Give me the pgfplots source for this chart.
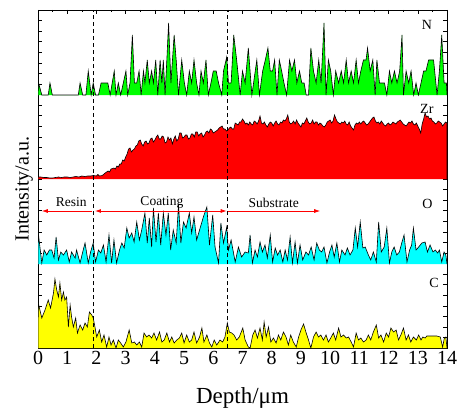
\documentclass[border=0pt]{standalone}
\usepackage{fontspec}
\setmainfont{Liberation Serif}
\usepackage{pgfplots}
\pgfplotsset{compat=1.18}
\usetikzlibrary{arrows.meta}
\definecolor{cG}{RGB}{0,255,0}
\definecolor{cR}{RGB}{255,0,0}
\definecolor{cC}{RGB}{0,255,255}
\definecolor{cY}{RGB}{255,255,0}
\begin{document}
\begin{tikzpicture}
\begin{axis}[
 scale only axis, width=409pt, height=338pt,
 xmin=0, xmax=14, ymin=0, ymax=338,
 xtick={0,1,...,14}, minor x tick num=1,
 ytick distance=10.5625, yticklabel=\empty,
 tick align=inside, major tick length=4pt, minor tick length=2.5pt,
 every tick/.style={black, line width=0.5pt},
 axis line style={line width=0.8pt},
 /pgf/number format/assume math mode=true,
 xticklabel style={font=\fontsize{20}{24}\selectfont},
 xlabel={Depth/μm}, ylabel={Intensity/a.u.},
 xlabel style={font=\fontsize{23}{27}\selectfont, at={(axis description cs:0.5,-0.163)}, anchor=base},
 ylabel style={font=\fontsize{20}{24}\selectfont, at={(axis description cs:-0.034,0.47)}, anchor=center},
]
% N panel (baseline 253)
\addplot[fill=cG, draw=black, line width=0.6pt, y filter/.expression={y+253}] coordinates {
(0,0) (0.02,12) (0.13,0) (0.35,0) (0.41,12) (0.49,0) (1.38,0) (1.44,12) (1.53,0) (1.64,0) (1.72,24) (1.82,0) (1.89,12) (1.97,0) (2.07,0) (2.16,12) (2.39,12) (2.47,0) (2.61,24) (2.67,0) (2.75,12) (2.83,0) (2.92,12) (3.01,24) (3.07,0) (3.15,12) (3.23,60) (3.30,12) (3.38,12) (3.46,24) (3.53,0) (3.61,24) (3.66,12) (3.74,35) (3.81,12) (3.89,24) (3.95,12) (4.03,35) (4.10,0) (4.18,35) (4.24,12) (4.29,35) (4.35,0) (4.41,35) (4.47,72) (4.55,12) (4.66,60) (4.73,35) (4.81,0) (4.92,35) (5.01,12) (5.09,0) (5.18,24) (5.26,12) (5.34,35) (5.43,12) (5.51,0) (5.58,24) (5.66,12) (5.75,35) (5.83,0) (5.92,12) (6.00,24) (6.10,24) (6.18,12) (6.29,0) (6.35,24) (6.46,38) (6.52,12) (6.61,12) (6.70,60) (6.80,35) (6.92,0) (7.00,24) (7.09,12) (7.20,47) (7.32,0) (7.49,35) (7.58,0) (7.69,24) (7.78,35) (7.87,47) (7.95,24) (8.03,24) (8.10,35) (8.18,0) (8.26,35) (8.34,24) (8.42,12) (8.51,0) (8.61,35) (8.69,24) (8.78,35) (8.86,12) (8.95,24) (9.03,12) (9.11,12) (9.18,0) (9.26,0) (9.34,47) (9.43,24) (9.52,12) (9.61,35) (9.69,12) (9.79,72) (9.86,0) (9.94,35) (10.02,24) (10.11,0) (10.19,24) (10.29,12) (10.38,24) (10.46,12) (10.55,35) (10.63,12) (10.72,24) (10.80,12) (10.89,35) (10.97,12) (11.05,24) (11.14,35) (11.23,35) (11.28,47) (11.37,24) (11.46,35) (11.54,0) (11.60,35) (11.69,12) (11.77,12) (11.86,12) (11.94,0) (12.03,24) (12.11,12) (12.20,24) (12.29,12) (12.38,24) (12.46,60) (12.51,0) (12.60,24) (12.69,12) (12.77,24) (12.86,0) (12.94,12) (13.02,0) (13.11,12) (13.20,24) (13.28,24) (13.37,35) (13.54,35) (13.66,0) (13.74,24) (13.82,60) (13.90,12) (13.98,12) (14,0)};
% Zr panel (baseline 169)
\addplot[fill=cR, draw=black, line width=0.6pt, y filter/.expression={y+169}] coordinates {
(0,0) (0,2) (0.1,2) (0.2,1.5) (0.3,1.5) (0.4,1) (0.5,1) (0.6,1.5) (0.7,2) (0.8,1.5) (0.9,2) (1.0,2) (1.1,1.5) (1.2,2) (1.3,2.5) (1.4,2) (1.5,3) (1.6,2.5) (1.7,3) (1.8,3) (1.9,3.5) (2.0,3) (2.05,4.5) (2.1,3) (2.2,3.5) (2.3,6) (2.4,8) (2.45,7) (2.5,10) (2.6,11) (2.65,10) (2.7,13) (2.75,12) (2.8,15) (2.85,15) (2.9,19) (2.95,18) (3.0,22) (3.05,25) (3.1,30) (3.15,31) (3.2,27) (3.25,29) (3.3,30) (3.35,33) (3.4,34) (3.45,38) (3.5,39) (3.55,35) (3.6,33) (3.65,37) (3.7,38) (3.75,35) (3.8,36) (3.85,40) (3.9,41) (3.95,37) (4.0,39) (4.05,42) (4.1,44) (4.15,40) (4.2,40) (4.25,43) (4.3,42) (4.35,36) (4.4,37) (4.45,42) (4.5,39) (4.55,41) (4.6,35) (4.65,40) (4.7,43) (4.75,38) (4.8,40) (4.85,46) (4.9,46) (4.95,41) (5.0,42) (5.05,44) (5.1,44) (5.15,40) (5.2,41) (5.25,45) (5.3,45) (5.35,42) (5.4,47) (5.45,47) (5.5,43) (5.55,45) (5.6,46) (5.65,42) (5.7,44) (5.75,47) (5.8,48) (5.85,46) (5.9,50) (5.95,49) (6.0,46) (6.05,47) (6.1,48) (6.15,49) (6.2,51) (6.25,52) (6.3,53) (6.35,50) (6.4,50) (6.45,48) (6.5,49) (6.55,51) (6.6,52) (6.65,50) (6.7,50) (6.75,56) (6.8,55) (6.85,54) (6.9,57) (6.95,57) (7.0,60) (7.05,58) (7.1,55) (7.15,56) (7.2,54) (7.25,57) (7.3,55) (7.35,54) (7.4,58) (7.45,57) (7.5,55) (7.55,58) (7.6,63) (7.65,56) (7.7,55) (7.75,57) (7.8,54) (7.85,52) (7.9,55) (7.95,57) (8.0,56) (8.05,53) (8.1,56) (8.15,58) (8.2,55) (8.25,54) (8.3,57) (8.35,56) (8.4,59) (8.45,58) (8.5,60) (8.55,64) (8.6,57) (8.65,55) (8.7,56) (8.75,58) (8.8,55) (8.85,59) (8.9,56) (8.95,54) (9.0,52) (9.05,56) (9.1,55) (9.15,58) (9.2,61) (9.25,57) (9.3,55) (9.35,56) (9.4,59) (9.45,55) (9.5,57) (9.55,57) (9.6,54) (9.65,56) (9.7,55) (9.75,53) (9.8,52) (9.85,54) (9.9,57) (9.95,58) (10.0,59) (10.05,56) (10.1,58) (10.15,64) (10.2,60) (10.25,57) (10.3,56) (10.35,55) (10.4,57) (10.45,56) (10.5,58) (10.55,55) (10.6,54) (10.65,57) (10.7,53) (10.75,51) (10.8,49) (10.85,54) (10.9,56) (10.95,55) (11.0,57) (11.05,55) (11.1,57) (11.15,58) (11.2,56) (11.25,54) (11.3,55) (11.35,57) (11.4,59) (11.45,61) (11.5,62) (11.55,58) (11.6,56) (11.65,57) (11.7,55) (11.75,58) (11.8,56) (11.85,54) (11.9,53) (11.95,55) (12.0,56) (12.05,54) (12.1,55) (12.15,57) (12.2,56) (12.25,55) (12.3,57) (12.35,58) (12.4,59) (12.45,57) (12.5,55) (12.55,54) (12.6,53) (12.65,55) (12.7,57) (12.75,56) (12.8,58) (12.85,55) (12.9,54) (12.95,56) (13.0,53) (13.05,50) (13.1,46) (13.15,55) (13.2,60) (13.25,66) (13.3,62) (13.35,63) (13.4,60) (13.45,61) (13.5,58) (13.55,57) (13.6,55) (13.65,56) (13.7,58) (13.75,57) (13.8,56) (13.85,53) (13.9,55) (13.95,57) (14,56) (14,0)};
% O panel (baseline 84)
\addplot[fill=cC, draw=black, line width=0.6pt, y filter/.expression={y+84}] coordinates {
(0,0) (0.01,31) (0.13,1) (0.21,14) (0.30,9) (0.39,14) (0.47,14) (0.55,6) (0.62,27) (0.70,4) (0.78,12) (0.87,9) (0.98,14) (1.07,2) (1.15,12) (1.27,6) (1.32,14) (1.44,1) (1.53,12) (1.61,21) (1.72,1) (1.80,12) (1.89,21) (1.97,2) (2.07,14) (2.15,11) (2.24,19) (2.33,2) (2.43,29) (2.52,1) (2.60,24) (2.69,1) (2.79,14) (2.87,21) (2.95,16) (3.04,36) (3.12,26) (3.21,31) (3.29,22) (3.38,42) (3.47,24) (3.55,34) (3.66,51) (3.74,21) (3.81,46) (3.89,17) (3.95,56) (4.04,22) (4.12,51) (4.20,19) (4.29,51) (4.38,29) (4.46,51) (4.54,14) (4.63,34) (4.73,21) (4.81,59) (4.89,21) (4.98,42) (5.07,36) (5.18,51) (5.26,31) (5.34,47) (5.43,24) (5.55,36) (5.66,47) (5.78,57) (5.87,19) (5.98,49) (6.06,17) (6.18,1) (6.26,41) (6.35,21) (6.46,37) (6.52,14) (6.61,24) (6.75,2) (6.86,17) (6.97,7) (7.09,12) (7.20,11) (7.26,29) (7.34,1) (7.43,14) (7.51,7) (7.60,22) (7.68,12) (7.77,19) (7.85,6) (7.95,29) (8.03,2) (8.12,16) (8.20,9) (8.29,14) (8.38,2) (8.46,14) (8.54,4) (8.63,27) (8.71,1) (8.80,22) (8.88,1) (8.97,19) (9.06,4) (9.17,12) (9.26,9) (9.35,17) (9.45,4) (9.54,21) (9.63,14) (9.71,12) (9.79,17) (9.89,1) (9.98,12) (10.06,19) (10.14,7) (10.23,21) (10.32,2) (10.40,14) (10.51,9) (10.59,16) (10.68,9) (10.78,14) (10.86,36) (10.94,17) (11.03,42) (11.12,16) (11.20,17) (11.31,9) (11.39,4) (11.48,12) (11.58,2) (11.66,42) (11.75,12) (11.85,17) (11.94,36) (12.03,1) (12.11,12) (12.19,17) (12.28,9) (12.37,12) (12.45,21) (12.53,29) (12.63,2) (12.72,14) (12.79,19) (12.85,36) (12.94,14) (13.03,17) (13.14,21) (13.25,22) (13.33,12) (13.42,19) (13.52,12) (13.60,14) (13.68,11) (13.74,14) (13.82,2) (13.90,12) (13.96,9) (14,0)};
% C panel (baseline 0)
\addplot[fill=cY, draw=black, line width=0.6pt] coordinates {
(0,0) (0.01,45) (0.13,30) (0.24,38) (0.35,48) (0.43,40) (0.53,55) (0.58,69) (0.64,58) (0.70,51) (0.75,65) (0.81,48) (0.87,56) (0.92,48) (0.98,51) (1.04,21) (1.10,43) (1.15,31) (1.21,21) (1.29,30) (1.35,15) (1.44,23) (1.53,18) (1.61,25) (1.69,21) (1.76,36) (1.84,33) (1.89,30) (1.95,21) (2.01,11) (2.10,18) (2.18,6) (2.26,13) (2.35,1) (2.43,11) (2.50,3) (2.58,8) (2.67,0) (2.75,8) (2.83,5) (2.92,1) (3.01,6) (3.12,18) (3.21,5) (3.30,6) (3.38,3) (3.47,6) (3.55,1) (3.63,15) (3.72,11) (3.80,13) (3.89,10) (3.97,15) (4.06,8) (4.16,16) (4.24,6) (4.32,8) (4.41,15) (4.50,6) (4.58,11) (4.66,5) (4.75,8) (4.84,10) (4.92,15) (5.00,5) (5.09,13) (5.18,6) (5.26,8) (5.34,16) (5.43,5) (5.53,11) (5.61,20) (5.68,6) (5.78,13) (5.87,5) (5.95,1) (6.03,8) (6.12,3) (6.23,8) (6.32,6) (6.40,11) (6.48,25) (6.55,16) (6.63,15) (6.71,13) (6.80,8) (6.89,11) (7.01,20) (7.09,8) (7.20,1) (7.26,0) (7.35,13) (7.43,18) (7.51,10) (7.60,20) (7.68,8) (7.74,26) (7.81,11) (7.89,21) (7.97,6) (8.06,10) (8.15,5) (8.23,13) (8.31,8) (8.40,16) (8.49,11) (8.57,3) (8.65,13) (8.74,6) (8.84,1) (8.92,11) (9.00,18) (9.09,24) (9.18,15) (9.26,8) (9.34,0) (9.43,11) (9.52,16) (9.60,11) (9.68,13) (9.77,8) (9.86,13) (9.94,6) (10.02,10) (10.11,15) (10.19,8) (10.29,20) (10.37,11) (10.46,13) (10.55,10) (10.63,11) (10.72,6) (10.80,1) (10.89,15) (10.97,8) (11.05,10) (11.14,6) (11.23,8) (11.31,13) (11.39,8) (11.48,16) (11.58,23) (11.66,10) (11.74,13) (11.83,6) (11.92,15) (12.00,11) (12.08,20) (12.17,16) (12.26,18) (12.34,8) (12.42,13) (12.51,20) (12.60,8) (12.68,13) (12.76,6) (12.85,11) (12.95,8) (13.03,13) (13.11,8) (13.17,11) (13.25,10) (13.31,12) (13.65,12) (13.77,11) (13.85,1) (13.91,10) (13.96,11) (14,0)};
% dashed boundaries
\addplot[black, line width=0.8pt, dash pattern=on 4pt off 3pt] coordinates {(1.9,0) (1.9,338)};
\addplot[black, line width=0.8pt, dash pattern=on 4pt off 3pt] coordinates {(6.5,0) (6.5,338)};
% region arrows
\draw[cR, line width=0.8pt, -{Latex[length=6pt,width=4pt]}] (axis cs:1.84,137) -- (axis cs:0.13,137);
\draw[cR, line width=0.8pt, {Latex[length=6pt,width=4pt]}-{Latex[length=6pt,width=4pt]}] (axis cs:1.95,137) -- (axis cs:6.46,137);
\draw[cR, line width=0.8pt, -{Latex[length=6pt,width=4pt]}] (axis cs:6.5,137) -- (axis cs:9.66,137);
\node[anchor=base, font=\fontsize{13.5}{16}\selectfont] at (axis cs:1.14,141.3) {Resin};
\node[anchor=base, font=\fontsize{13.5}{16}\selectfont] at (axis cs:4.24,142.7) {Coating};
\node[anchor=base, font=\fontsize{13.5}{16}\selectfont] at (axis cs:8.07,140.3) {Substrate};
% element labels
\node[anchor=base, font=\fontsize{14}{16}\selectfont] at (axis cs:13.31,318) {N};
\node[anchor=base, font=\fontsize{14}{16}\selectfont] at (axis cs:13.31,234.7) {Zr};
\node[anchor=base, font=\fontsize{14}{16}\selectfont] at (axis cs:13.33,139.3) {O};
\node[anchor=base, font=\fontsize{14}{16}\selectfont] at (axis cs:13.56,60.7) {C};
\coordinate (ll) at (rel axis cs:0,0);
\coordinate (ur) at (rel axis cs:1,1);
\end{axis}
\pgfresetboundingbox
\path ([shift={(-38pt,-62pt)}]ll) rectangle ([shift={(15pt,10pt)}]ur);
\end{tikzpicture}
\end{document}
